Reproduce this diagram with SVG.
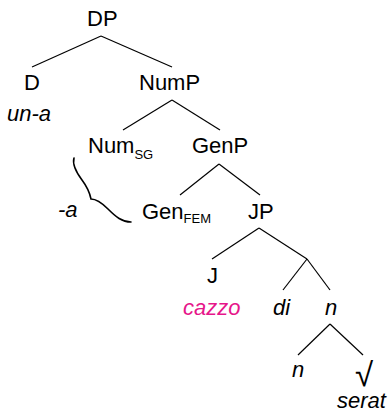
<svg xmlns="http://www.w3.org/2000/svg" width="392" height="412" viewBox="0 0 392 412">
<style>
text{font-family:"Liberation Sans",Arial,sans-serif;font-size:22px;fill:#000}
.i{font-style:italic}
.sub{font-size:13px}
.pink{fill:#E6168A}
.rt{font-size:33px}
#connectors line{stroke:#000;stroke-width:1.2}
#brace{fill:none;stroke:#000;stroke-width:1.6;stroke-linecap:round}
</style>
<rect width="392" height="412" fill="#fff"/>
<g id="connectors">
<line x1="101" y1="36" x2="32" y2="67"/>
<line x1="101" y1="36" x2="172" y2="67"/>
<line x1="172" y1="100" x2="123" y2="130"/>
<line x1="172" y1="100" x2="220" y2="130"/>
<line x1="219" y1="164" x2="180" y2="195"/>
<line x1="219" y1="164" x2="260" y2="195"/>
<line x1="259" y1="228" x2="212" y2="259"/>
<line x1="259" y1="228" x2="307" y2="259"/>
<line x1="307" y1="259" x2="283" y2="290"/>
<line x1="307" y1="259" x2="330" y2="290"/>
<line x1="330" y1="324" x2="298" y2="355"/>
<line x1="330" y1="324" x2="363" y2="355"/>
<path id="brace" d="M74,158 C72,165 76,172 82,180 C88,188 90,194 91,199 C96,199 102,203 108,209 C116,217 122,222 131,222"/>
</g>
<g id="DP"><text x="87" y="26">DP</text></g>
<g id="D"><text x="24" y="90">D</text><text class="i" x="7" y="121">un-a</text></g>
<g id="NumP"><text x="139" y="90">NumP</text></g>
<g id="Num"><text x="88" y="153">Num<tspan class="sub" dy="6">SG</tspan></text></g>
<g id="GenP"><text x="192" y="153">GenP</text></g>
<g id="a"><text class="i" x="58" y="217">-a</text></g>
<g id="Gen"><text x="142" y="219">Gen<tspan class="sub" dy="4">FEM</tspan></text></g>
<g id="JP"><text x="248" y="219">JP</text></g>
<g id="J"><text x="207" y="283">J</text><text class="i pink" x="183" y="315">cazzo</text></g>
<g id="di"><text class="i" x="273" y="315">di</text></g>
<g id="n1"><text class="i" x="325" y="315">n</text></g>
<g id="n2"><text class="i" x="292" y="377">n</text></g>
<g id="root"><text class="rt" x="355" y="386">√</text><text class="i" x="337" y="408">serat</text></g>
</svg>
